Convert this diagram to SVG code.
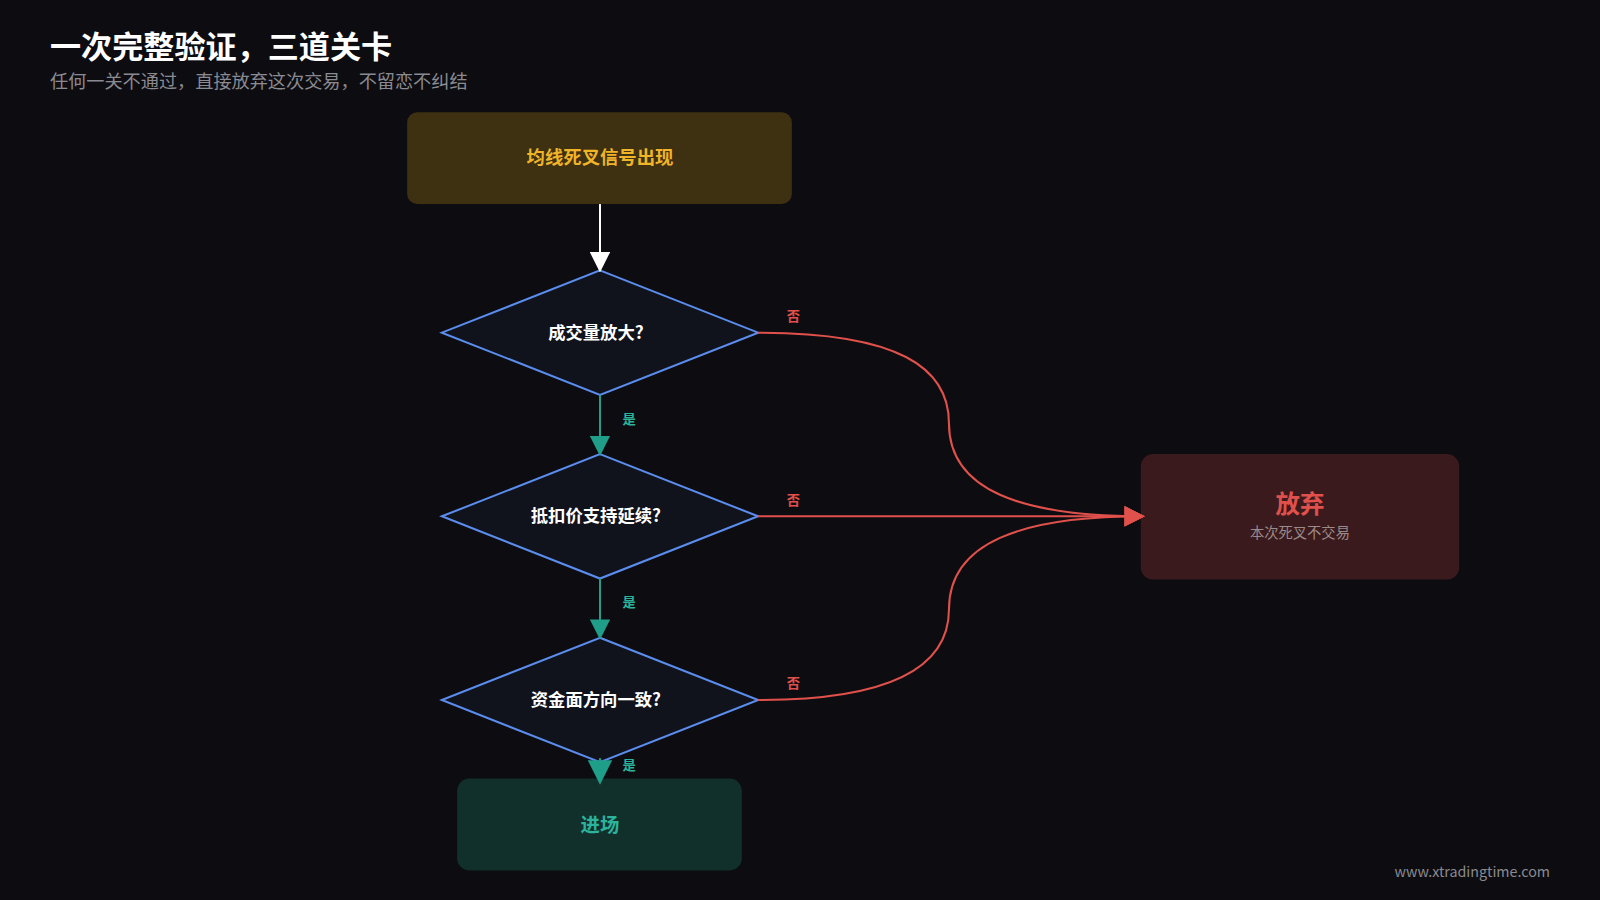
<svg xmlns="http://www.w3.org/2000/svg" width="1600" height="900" viewBox="0 0 1600 900">
<style>
text{font-family:"Noto Sans CJK SC","Noto Sans",sans-serif}
.dia{fill:#10131c;stroke:#5b8def;stroke-width:2}
.dt{fill:#ffffff;font-size:17px;font-weight:bold;text-anchor:middle}
.yes{stroke:#1f9e8a;stroke-width:2;fill:none}
.no{stroke:#e0514c;stroke-width:2;fill:none}
.yl{fill:#2bb39c;font-size:13px;font-weight:bold}
.nl{fill:#e0514c;font-size:13px;font-weight:bold}
</style>
<defs>
<marker id="ag" markerWidth="20" markerHeight="20" refX="18" refY="10" orient="auto" markerUnits="userSpaceOnUse" viewBox="0 0 20 20"><path d="M0,0L20,10L0,20z" fill="#1f9e8a"/></marker>
<marker id="ag2" markerWidth="24" markerHeight="24" refX="22" refY="12" orient="auto" markerUnits="userSpaceOnUse" viewBox="0 0 24 24"><path d="M0,0L24,12L0,24z" fill="#1f9e8a"/></marker>
<marker id="ar" markerWidth="20" markerHeight="20" refX="18" refY="10" orient="auto" markerUnits="userSpaceOnUse" viewBox="0 0 20 20"><path d="M0,0L20,10L0,20z" fill="#e0514c"/></marker>
<marker id="aw2" markerWidth="20" markerHeight="20" refX="18" refY="10" orient="auto" markerUnits="userSpaceOnUse" viewBox="0 0 20 20"><path d="M0,0L20,10L0,20z" fill="#ffffff"/></marker>
</defs>
<rect width="1600" height="900" fill="#0d0d11"/>
<g transform="scale(1.0204)">
<text x="49" y="57" fill="#ffffff" font-size="30.5" font-weight="bold">一次完整验证，三道关卡</text>
<text x="49" y="86" fill="#8a8a92" font-size="17.8">任何一关不通过，直接放弃这次交易，不留恋不纠结</text>
<g id="start"><rect x="399" y="110" width="377" height="90" rx="10" fill="#3d3112"/><text x="588" y="161" fill="#f0b429" font-size="18" font-weight="bold" text-anchor="middle">均线死叉信号出现</text></g>
<g id="d1"><path class="dia" d="M588,265L743,326L588,387L433,326z"/><text class="dt" x="584" y="332">成交量放大?</text></g>
<g id="d2"><path class="dia" d="M588,445L743,506L588,567L433,506z"/><text class="dt" x="584" y="512">抵扣价支持延续?</text></g>
<g id="d3"><path class="dia" d="M588,625L743,686L588,747L433,686z"/><text class="dt" x="584" y="692">资金面方向一致?</text></g>
<g id="abandon"><rect x="1118" y="445" width="312" height="123" rx="12" fill="#3a1a1c"/><text x="1274" y="503" fill="#e0514c" font-size="24" font-weight="bold" text-anchor="middle">放弃</text><text x="1274" y="527" fill="#9a8a8a" font-size="14" text-anchor="middle">本次死叉不交易</text></g>
<g id="enter"><rect x="448" y="763" width="279" height="90" rx="12" fill="#12302b"/><text x="588" y="815" fill="#2bb39c" font-size="19" font-weight="bold" text-anchor="middle">进场</text></g>
<g id="connectors">
<path d="M588,200V265" stroke="#ffffff" stroke-width="2" fill="none" marker-end="url(#aw2)"/>
<path class="yes" d="M588,387V445" marker-end="url(#ag)"/>
<path class="yes" d="M588,567V625" marker-end="url(#ag)"/>
<path class="yes" d="M588,743V767" marker-end="url(#ag2)"/>
<path class="no" d="M743,326C880,326 930,360 930,415C930,480 1000,506 1120,506" marker-end="url(#ar)"/>
<path class="no" d="M743,506H1120" marker-end="url(#ar)"/>
<path class="no" d="M743,686C880,686 930,650 930,597C930,532 1000,506 1120,506" marker-end="url(#ar)"/>
<text class="yl" x="610" y="416">是</text>
<text class="yl" x="610" y="595">是</text>
<text class="yl" x="610" y="755">是</text>
<text class="nl" x="771" y="315">否</text>
<text class="nl" x="771" y="495">否</text>
<text class="nl" x="771" y="674">否</text>
</g>
<text x="1519" y="859" fill="#8a8a92" font-size="14" text-anchor="end" font-family="Liberation Sans,sans-serif">www.xtradingtime.com</text>
</g>
</svg>
